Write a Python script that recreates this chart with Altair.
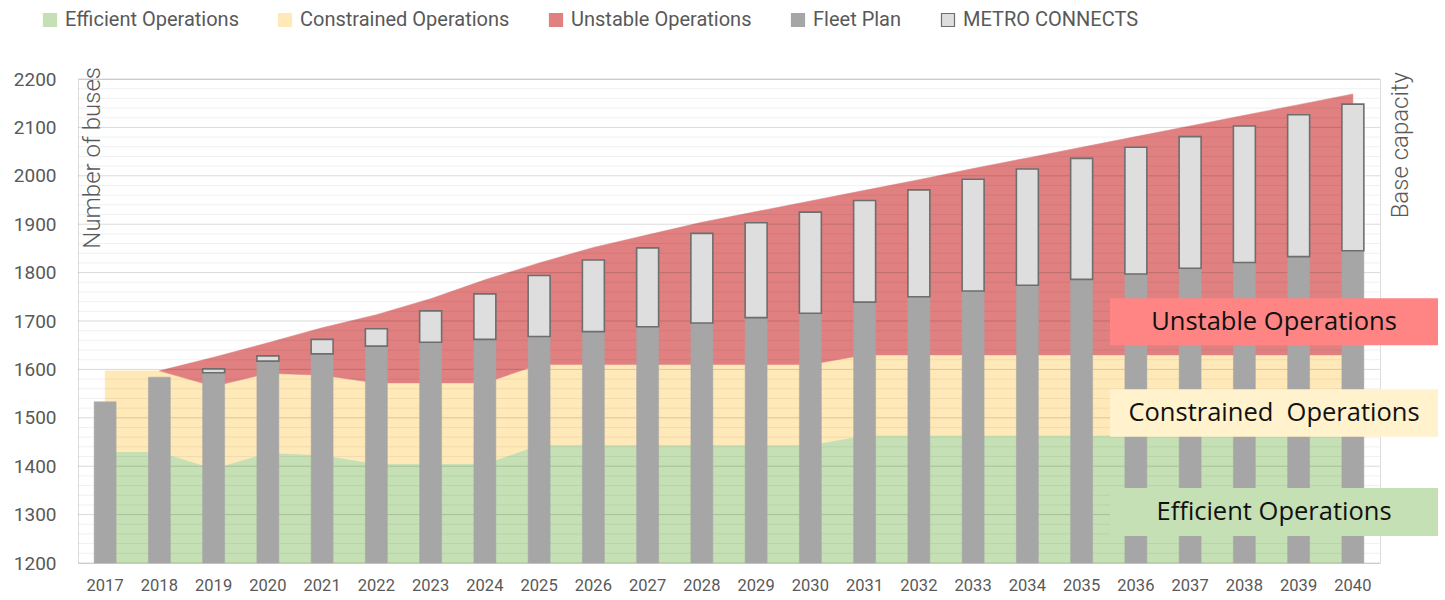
import altair as alt
import pandas as pd

SANS = "Roboto"
BOXFONT = "Open Sans"

years = list(range(2017, 2041))
efficient_top = [1430, 1430, 1395, 1428, 1423, 1405, 1405, 1405, 1444, 1444, 1444, 1444, 1444, 1444,
                 1464, 1464, 1464, 1464, 1464, 1464, 1464, 1464, 1464, 1464]
constrained_top = [1597, 1597, 1565, 1592, 1588, 1572, 1572, 1572, 1610, 1610, 1610, 1610, 1610, 1610,
                   1630, 1630, 1630, 1630, 1630, 1630, 1630, 1630, 1630, 1630]
unstable_top = [None, 1597, 1625, 1655, 1686, 1713, 1746, 1785, 1820, 1852, 1878, 1904, 1926, 1948,
                1970, 1992, 2015, 2037, 2059, 2081, 2103, 2125, 2147, 2169]
fleet_plan = [1533, 1584, 1593, 1617, 1632, 1648, 1656, 1662, 1668, 1678, 1688, 1696, 1707, 1716,
              1739, 1750, 1762, 1774, 1786, 1797, 1809, 1821, 1833, 1845]
metro_connects = [0, 0, 8, 11, 30, 36, 65, 94, 126, 148, 163, 185, 196, 209,
                  210, 221, 231, 240, 250, 262, 272, 282, 293, 303]

series_names = ["Efficient Operations", "Constrained Operations", "Unstable Operations",
                "Fleet Plan", "METRO CONNECTS"]
fill_colors = ["#c5e0b4", "#ffe9b8", "#e08080", "#a6a6a6", "#dedede"]
stroke_colors = ["#c5e0b4", "#ffe9b8", "#e08080", "#a6a6a6", "#6e6e6e"]

box_labels = ["Unstable Operations", "Constrained\u00a0 Operations", "Efficient Operations"]
box_low = [1650, 1461, 1256]
box_high = [1747, 1559, 1355]
box_colors = ["#ff8585", "#fff2cc", "#c5e0b4"]

y_ticks = list(range(1200, 2201, 100))
minor_grid = [v for v in range(1200, 2201, 20) if v % 100]

axis_base = 1200

# ---- tables ----
area_rows = []
for i, yr in enumerate(years):
    area_rows.append({"year": yr, "series": series_names[0], "low": axis_base, "high": efficient_top[i]})
    area_rows.append({"year": yr, "series": series_names[1], "low": efficient_top[i], "high": constrained_top[i]})
    if unstable_top[i] is not None:
        area_rows.append({"year": yr, "series": series_names[2], "low": constrained_top[i], "high": unstable_top[i]})
area_df = pd.DataFrame(area_rows)

fleet_df = pd.DataFrame({"year": years, "fleet": fleet_plan, "series": series_names[3]})
metro_df = pd.DataFrame({"year": years, "low": fleet_plan,
                         "high": [f + m for f, m in zip(fleet_plan, metro_connects)],
                         "metro": metro_connects, "series": series_names[4]})
metro_df = metro_df[metro_df["metro"] > 0]

box_df = pd.DataFrame({"label": box_labels, "low": box_low, "high": box_high, "color": box_colors,
                       "mid": [(a + b) / 2 for a, b in zip(box_low, box_high)]})
minor_df = pd.DataFrame({"v": minor_grid})
major_df = pd.DataFrame({"v": y_ticks})
one_df = pd.DataFrame({"k": [0]})

# ---- scales / encodings ----
x_scale = alt.Scale(paddingInner=0.595, paddingOuter=0.2975)
y_scale = alt.Scale(domain=[1200, 2200], nice=False, zero=False)
fill_scale = alt.Scale(domain=series_names, range=fill_colors)
stroke_scale = alt.Scale(domain=series_names, range=stroke_colors)

x_axis = alt.Axis(labelAngle=0, ticks=False, domain=False, grid=False,
                  labelFont=SANS, labelFontSize=16.5, labelColor="#595959", labelPadding=14)
y_axis = alt.Axis(values=y_ticks, format="d", ticks=False, domain=False, grid=False,
                  labelFont=SANS, labelFontSize=19, labelColor="#595959", labelPadding=22)


def X():
    return alt.X("year:O", scale=x_scale, title=None, axis=x_axis)


def Y(field):
    return alt.Y(field, scale=y_scale, title=None, axis=y_axis)


legend = alt.Legend(title=None, orient="none", legendX=-38, legendY=-69, direction="horizontal",
                    columns=5, symbolType="square", symbolSize=170, symbolStrokeWidth=1.2,
                    labelFont=SANS, labelFontSize=20, labelColor="#595959",
                    columnPadding=36, labelOffset=5, labelLimit=400)

fill_enc = alt.Fill("series:N", scale=fill_scale, legend=legend)
stroke_enc = alt.Stroke("series:N", scale=stroke_scale, legend=legend)

areas = alt.Chart(area_df).mark_area(strokeWidth=0.5).encode(
    x=X(),
    y=alt.Y("high:Q", scale=y_scale, stack=None, title=None, axis=y_axis),
    y2="low:Q",
    fill=fill_enc,
    stroke=stroke_enc,
    detail="series:N",
)

minor_rules = alt.Chart(minor_df).mark_rule(color="#000000", opacity=0.06, strokeWidth=1).encode(
    y=Y("v:Q")
)
major_rules = alt.Chart(major_df).mark_rule(color="#000000", opacity=0.15, strokeWidth=1).encode(
    y=Y("v:Q")
)

fleet_bars = alt.Chart(fleet_df).mark_bar(strokeWidth=0.5).encode(
    x=X(),
    y=Y("fleet:Q"),
    y2=alt.datum(axis_base),
    fill=fill_enc,
    stroke=stroke_enc,
)

metro_bars = alt.Chart(metro_df).mark_bar(strokeWidth=1.6).encode(
    x=X(),
    y=Y("high:Q"),
    y2="low:Q",
    fill=fill_enc,
    stroke=stroke_enc,
)

boxes = alt.Chart(box_df).mark_rect().encode(
    x=alt.value(1032), x2=alt.value(1360),
    y=Y("high:Q"),
    y2="low:Q",
    color=alt.Color("color:N", scale=None),
)

box_text = alt.Chart(box_df).mark_text(font=BOXFONT, fontSize=25.5, color="#111111",
                                       align="center", baseline="middle").encode(
    x=alt.value(1196),
    y=Y("mid:Q"),
    text="label:N",
)

left_title = alt.Chart(one_df).mark_text(text="Number of buses", font=SANS, fontSize=24,
                                         fontWeight=300, color="#595959", angle=270, align="right",
                                         baseline="alphabetic").encode(
    x=alt.value(22), y=alt.value(-12))
right_title = alt.Chart(one_df).mark_text(text="Base capacity", font=SANS, fontSize=24,
                                          fontWeight=300, color="#595959", angle=270, align="right",
                                          baseline="alphabetic").encode(
    x=alt.value(1330), y=alt.value(-7))

chart = alt.layer(
    areas, minor_rules, major_rules, fleet_bars, metro_bars, boxes, box_text, left_title, right_title
).properties(
    width=1302, height=484,
    autosize=alt.AutoSizeParams(type="none"),
    padding={"left": 78, "top": 79, "right": 65, "bottom": 37},
).configure_view(stroke=None).configure(background="white")

chart.save("out.html", embed_options={"renderer": "svg", "actions": False})
